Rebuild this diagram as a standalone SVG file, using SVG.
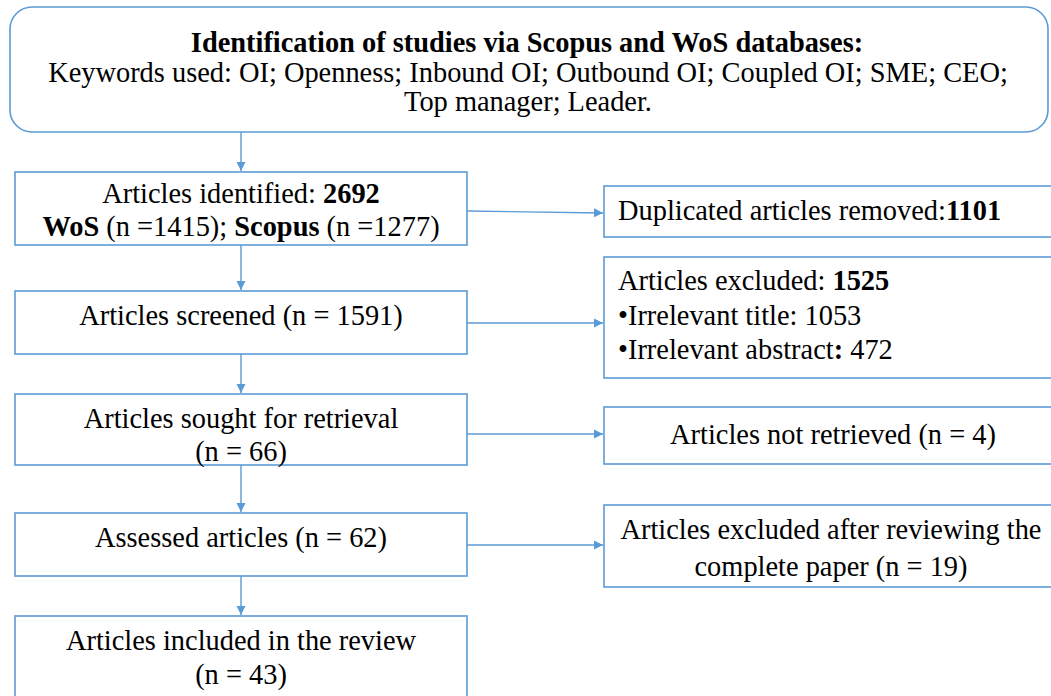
<svg xmlns="http://www.w3.org/2000/svg" width="1051" height="696" viewBox="0 0 1051 696">
<defs>
<marker id="ah" markerWidth="10" markerHeight="10" refX="9" refY="5" orient="auto" markerUnits="userSpaceOnUse">
<path d="M0,0.5 L9,5 L0,9.5 Z" fill="#5B9BD5"/>
</marker>
<style>
.box{fill:#ffffff;stroke:#5B9BD5;stroke-width:1.6}
.con{stroke:#5B9BD5;stroke-width:1.4;fill:none;marker-end:url(#ah)}
text{font-family:'Liberation Serif','DejaVu Serif',serif;font-size:28.4px;fill:#000}
.c{text-anchor:middle}
.b{font-weight:bold}
</style>
</defs>
<rect width="1051" height="696" fill="#ffffff"/>
<g id="connectors">
<line class="con" x1="241" y1="132" x2="241" y2="171"/>
<line class="con" x1="241" y1="245" x2="241" y2="290"/>
<line class="con" x1="241" y1="354" x2="241" y2="393"/>
<line class="con" x1="241" y1="465" x2="241" y2="512"/>
<line class="con" x1="241" y1="576" x2="241" y2="615"/>
<line class="con" x1="467" y1="211" x2="603" y2="213"/>
<line class="con" x1="467" y1="323" x2="603" y2="323"/>
<line class="con" x1="467" y1="434" x2="603" y2="434"/>
<line class="con" x1="467" y1="545" x2="603" y2="545"/>
</g>
<g id="n-identification">
<rect class="box" x="10" y="7" width="1038" height="125" rx="22" ry="22"/>
<text class="c b" x="527" y="52">Identification of studies via Scopus and WoS databases:</text>
<text class="c" x="528" y="82">Keywords used: OI; Openness; Inbound OI; Outbound OI; Coupled OI; SME; CEO;</text>
<text class="c" x="528" y="111">Top manager; Leader.</text>
</g>
<g id="n-identified">
<rect class="box" x="15" y="172" width="452" height="73"/>
<text class="c" x="241" y="203">Articles identified: <tspan class="b">2692</tspan></text>
<text class="c" x="241" y="236"><tspan class="b">WoS</tspan> (n =1415); <tspan class="b">Scopus</tspan> (n =1277)</text>
</g>
<g id="n-screened">
<rect class="box" x="15" y="291" width="452" height="63"/>
<text class="c" x="241" y="325">Articles screened (n = 1591)</text>
</g>
<g id="n-sought">
<rect class="box" x="15" y="394" width="452" height="71"/>
<text class="c" x="241" y="428">Articles sought for retrieval</text>
<text class="c" x="241" y="461">(n = 66)</text>
</g>
<g id="n-assessed">
<rect class="box" x="15" y="513" width="452" height="63"/>
<text class="c" x="241" y="547">Assessed articles (n = 62)</text>
</g>
<g id="n-included">
<rect class="box" x="15" y="616" width="452" height="100"/>
<text class="c" x="241" y="650">Articles included in the review</text>
<text class="c" x="241" y="684">(n = 43)</text>
</g>
<g id="n-duplicated">
<rect class="box" x="604" y="186" width="460" height="51"/>
<text x="618" y="220">Duplicated articles removed:<tspan class="b">1101</tspan></text>
</g>
<g id="n-excluded">
<rect class="box" x="604" y="257" width="460" height="121"/>
<text x="618" y="290">Articles excluded: <tspan class="b">1525</tspan></text>
<text x="618" y="325">•Irrelevant title: 1053</text>
<text x="618" y="359">•Irrelevant abstract<tspan class="b">:</tspan> 472</text>
</g>
<g id="n-notretrieved">
<rect class="box" x="604" y="407" width="460" height="57"/>
<text class="c" x="833" y="444">Articles not retrieved (n = 4)</text>
</g>
<g id="n-excluded-full">
<rect class="box" x="604" y="505" width="460" height="82"/>
<text class="c" x="831" y="539">Articles excluded after reviewing the</text>
<text class="c" x="831" y="576">complete paper (n = 19)</text>
</g>
</svg>
